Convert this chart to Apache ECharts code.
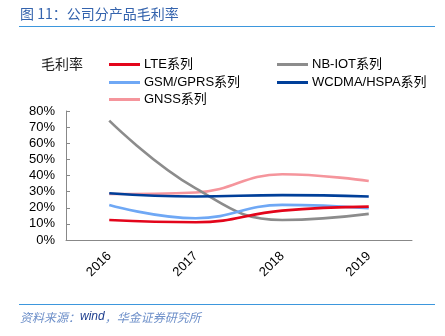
<!DOCTYPE html>
<html><head><meta charset="utf-8">
<script src="https://cdn.jsdelivr.net/npm/echarts@6/dist/echarts.min.js"></script>
<style>html,body{margin:0;padding:0;background:#fff}#c{width:445px;height:336px}</style>
</head><body><div id="c"></div>
<script>
var categories = ['2016','2017','2018','2019'];
var seriesNames = ['LTE系列','NB-IOT系列','GSM/GPRS系列','WCDMA/HSPA系列','GNSS系列'];
var lte = [0.124, 0.110, 0.182, 0.207];
var nbiot = [0.740, 0.320, 0.124, 0.162];
var gsm = [0.217, 0.135, 0.218, 0.197];
var wcdma = [0.290, 0.270, 0.278, 0.270];
var gnss = [0.285, 0.295, 0.408, 0.366];
var yTicks = [0, 0.1, 0.2, 0.3, 0.4, 0.5, 0.6, 0.7, 0.8];

var colors = ['#e3051b', '#8c8c8c', '#6fa8f5', '#003f99', '#f5959c'];
var values = [lte, nbiot, gsm, wcdma, gnss];
var font = '"Liberation Sans","Noto Sans CJK SC",sans-serif';

var chart = echarts.init(document.getElementById('c'));
var legendPos = [[109,58],[277,58],[109,76],[277,76],[109,93]];
var legends = seriesNames.map(function(n,i){
  return {data:[n], left:legendPos[i][0], top:legendPos[i][1], icon:'rect', itemWidth:31, itemHeight:3,
    itemGap:4, textStyle:{fontSize:13, color:'#000', fontFamily:font, padding:[0,0,0,-1]}, padding:0};
});
chart.setOption({
  animation:false,
  color: colors,
  legend: legends,
  grid:{left:66, right:33, top:111, bottom:96, containLabel:false},
  xAxis:{type:'category', data:categories, boundaryGap:true,
    axisLine:{lineStyle:{color:'#888', width:1}},
    axisTick:{inside:true, length:4, lineStyle:{color:'#888'}},
    axisLabel:{rotate:45, fontSize:13, color:'#000', fontFamily:font, margin:14}},
  yAxis:{type:'value', min:0, max:0.8, interval:0.1,
    splitLine:{show:false},
    axisLine:{show:true, lineStyle:{color:'#888', width:1}},
    axisTick:{show:true, inside:true, length:4, lineStyle:{color:'#888'}},
    axisLabel:{fontSize:13, color:'#000', fontFamily:font, margin:11,
      formatter:function(v){return Math.round(v*100)+'%';}}},
  series: seriesNames.map(function(n,i){
    return {name:n, type:'line', smooth:0.45, data:values[i], symbol:'none',
      lineStyle:{width:2.6, color:colors[i]}, z: [5,2,3,4,1][i]};
  }),
  graphic:[
    {type:'text', left:20, top:7, style:{text:'图 11：公司分产品毛利率', fontSize:14, fill:'#3463ad', fontFamily:'"Noto Sans CJK SC",sans-serif'}},
    {type:'line', shape:{x1:19,y1:26.5,x2:435,y2:26.5}, style:{stroke:'#3d97dd', lineWidth:1.2}},
    {type:'text', left:41, top:57, style:{text:'毛利率', fontSize:14, fill:'#222', fontFamily:'"Noto Sans CJK SC",sans-serif'}},
    {type:'line', shape:{x1:19,y1:304.5,x2:435,y2:304.5}, style:{stroke:'#3d97dd', lineWidth:1.2}},
    {type:'text', left:20, top:311, style:{rich:{a:{fontSize:12, fill:'#6d8fc9', fontStyle:'italic', fontFamily:'"Noto Sans CJK SC",sans-serif'}, b:{fontSize:12, fill:'#1f3f8f', fontStyle:'italic', fontFamily:font}}, text:'{a|资料来源：}{b|wind}{a|，华金证券研究所}'}}
  ]
});
</script></body></html>
